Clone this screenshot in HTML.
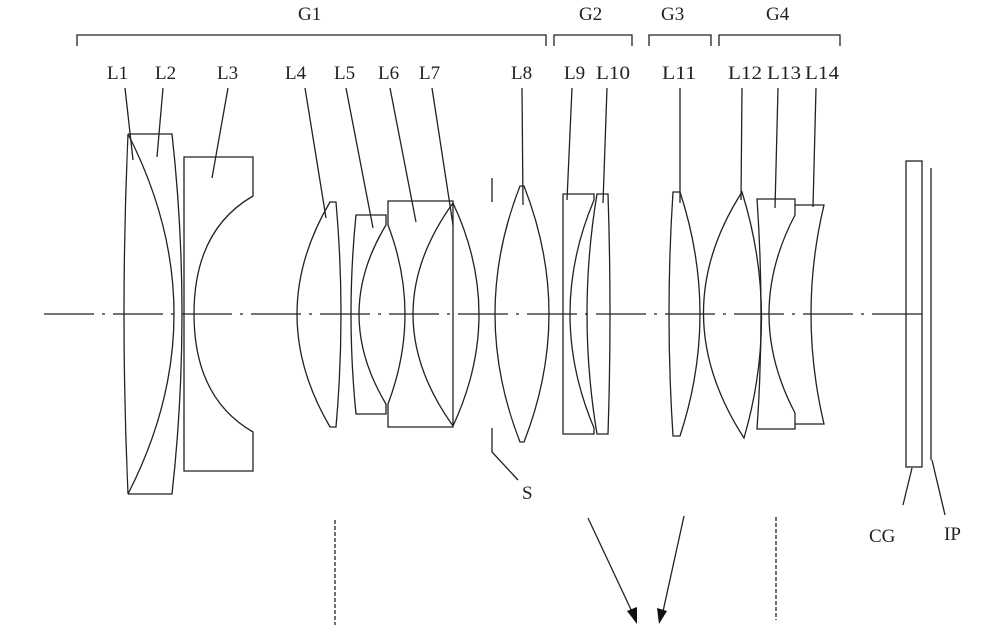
<!DOCTYPE html>
<html><head><meta charset="utf-8"><style>
html,body{margin:0;padding:0;background:#fff;}
svg{display:block}
text{font-family:"Liberation Serif",serif;font-size:19px;fill:#222;}
</style></head><body>
<svg width="1002" height="640" viewBox="0 0 1002 640" xmlns="http://www.w3.org/2000/svg">
<g fill="none" stroke="#222" stroke-width="1.3">
<!-- optical axis -->
<path d="M44 314H930" stroke-dasharray="50 8 3 8"/>
<!-- brackets -->
<path d="M77 46V35H546V46"/>
<path d="M554 46V35H632V46"/>
<path d="M649 46V35H711V46"/>
<path d="M719 46V35H840V46"/>
<!-- L1 -->
<path d="M128 134Q120 314 128 494"/>
<path d="M128 134Q220 314 128 494"/>
<!-- L2 -->
<path d="M128 134H172Q192 314 172 494H128"/>
<!-- L3 -->
<path d="M184 157H253V196Q194 230 194 314Q194 398 253 432V471H184Z"/>
<!-- L4 -->
<path d="M330 202H336Q346 314 336 427H330Q264 314 330 202Z"/>
<!-- L5 -->
<path d="M356 215H386V225Q332 314 386 404V414H356Q346 314 356 215Z"/>
<!-- L6 -->
<path d="M388 201H453V427H388V404Q422 314 388 225Z"/>
<path d="M453 203Q373 314 453 426"/>
<!-- L7 -->
<path d="M453 203Q505 314 453 426"/>
<!-- stop -->
<path d="M492 178V202M492 428V452L518 480"/>
<!-- L8 -->
<path d="M520 186H524Q574 314 524 442H520Q470 314 520 186Z"/>
<!-- L9 -->
<path d="M563 194H594V200Q546 314 594 428V434H563Z"/>
<!-- L10 -->
<path d="M597 194H608Q612 314 608 434H597Q577 314 597 194Z"/>
<!-- L11 -->
<path d="M673 192H680Q720 314 680 436H673Q665 314 673 192Z"/>
<!-- L12 -->
<path d="M742 192Q780 314 744 438Q664 314 742 192Z"/>
<!-- L13 -->
<path d="M757 199H795V215Q743 314 795 413V429H757Q765 314 757 199Z"/>
<!-- L14 -->
<path d="M795 205H824Q798 314 824 424H795"/>
<!-- CG, IP -->
<rect x="906" y="161" width="16" height="306"/>
<path d="M931 168V460"/>
<path d="M903 505L912 468M945 515L932 460"/>
<!-- leaders -->
<path d="M125 88L133 160M163 88L157 157M228 88L212 178M305 88L326 218M346 88L373 228M390 88L416 222M432 88L453 225M522 88L523 205M572 88L567 200M607 88L603 203M680 88L680 203M742 88L741 200M778 88L775 208M816 88L813 207"/>
<!-- dashed verticals -->
<path d="M335 520V625M776 517V620" stroke-dasharray="4 2"/>
<!-- arrows -->
<path d="M588 518L634 616M684 516L662 616"/>
</g>
<g fill="#111">
<path d="M637 624L627 611L637 607Z"/>
<path d="M659 624L657 608L667 611Z"/>
</g>
<g>
<text x="298" y="20">G1</text>
<text x="579" y="20">G2</text>
<text x="661" y="20">G3</text>
<text x="766" y="20">G4</text>
<text x="107" y="79">L1</text>
<text x="155" y="79">L2</text>
<text x="217" y="79">L3</text>
<text x="285" y="79">L4</text>
<text x="334" y="79">L5</text>
<text x="378" y="79">L6</text>
<text x="419" y="79">L7</text>
<text x="511" y="79">L8</text>
<text x="564" y="79">L9</text>
<text x="596" y="79" textLength="34" lengthAdjust="spacingAndGlyphs">L10</text>
<text x="662" y="79" textLength="34" lengthAdjust="spacingAndGlyphs">L11</text>
<text x="728" y="79" textLength="34" lengthAdjust="spacingAndGlyphs">L12</text>
<text x="767" y="79" textLength="34" lengthAdjust="spacingAndGlyphs">L13</text>
<text x="805" y="79" textLength="34" lengthAdjust="spacingAndGlyphs">L14</text>
<text x="522" y="499">S</text>
<text x="869" y="542">CG</text>
<text x="944" y="540">IP</text>
</g>
</svg>
</body></html>
